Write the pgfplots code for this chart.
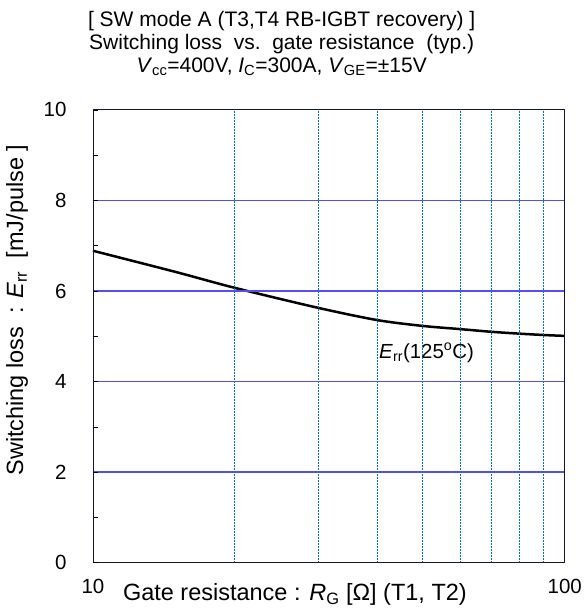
\documentclass[border=0pt]{standalone}
\usepackage{pgfplots}
\pgfplotsset{compat=1.18}
\usepackage{fontspec}
\setmainfont{Liberation Sans}
\definecolor{hgrid}{RGB}{80,80,235}
\definecolor{vgrid}{RGB}{0,112,200}
\definecolor{frame}{RGB}{20,20,60}
\begin{document}
\begin{tikzpicture}
\begin{axis}[
  scale only axis,
  width=472bp, height=453bp,
  xmode=log, log basis x=10,
  xmin=10, xmax=100, ymin=0, ymax=10,
  xtick={10,100}, xticklabels={10,100},
  minor xtick={20,30,40,50,60,70,80,90},
  xminorgrids=true, xmajorgrids=false,
  minor x grid style={draw=vgrid, line width=1bp, dash pattern=on 1.5bp off 1.5bp},
  x tick style={draw=none},
  ytick={2,4,6,8},
  extra y ticks={0,10},
  extra y tick style={grid=none},
  minor ytick={1,3,5,7,9},
  ymajorgrids=true,
  major y grid style={draw=hgrid, line width=1.4bp, solid},
  y tick style={draw=black, line width=0.6pt},
  major tick length=5bp, minor tick length=5bp,
  tick align=inside,
  ytick pos=left,
  axis line style={frame, line width=0.9pt},
  axis on top,
  tick label style={font=\fontsize{20.5bp}{22bp}\selectfont},
  /pgf/number format/assume math mode=true,
  xticklabel style={yshift=-13bp},
  yticklabel style={xshift=-23bp},
  title style={at={(0.40,1)}, anchor=south, yshift=25bp, align=center, font=\fontsize{21bp}{23bp}\selectfont},
  title={[ SW mode A (T3,T4 RB-IGBT recovery) ]\\Switching loss\ \ vs.\ \ gate resistance\ \ (typ.)\\\textit{V}\textsubscript{cc}=400V, \textit{I}\textsubscript{C}=300A, \textit{V}\textsubscript{GE}=±15V},
  xlabel={Gate resistance : \textit{R}\textsubscript{G} [Ω] (T1, T2)},
  xlabel style={at={(axis description cs:0.428,0)}, anchor=center, yshift=-32bp, font=\fontsize{23.5bp}{25bp}\selectfont},
  ylabel={Switching loss\ \ : \textit{E}\textsubscript{rr}\ \ [mJ/pulse ]},
  ylabel style={at={(axis description cs:-0.161,0.558)}, anchor=center, font=\fontsize{23.5bp}{25bp}\selectfont},
  clip=false,
]
\addplot[black, line width=2.5bp, smooth] coordinates {
 (10,6.89) (15,6.42) (20,6.07) (30,5.63) (40,5.36) (50,5.23) (60,5.16) (70,5.10) (80,5.06) (90,5.03) (100,5.01)
};
\node[anchor=west, font=\fontsize{20.4bp}{22bp}\selectfont, inner sep=0pt] at (axis cs:40.4,4.64) {\textit{E}\textsubscript{rr}(125\textsuperscript{o}C)};
\end{axis}
\path (current axis.south west) ++(-93bp,-46bp) rectangle ++(582bp,609bp);
\end{tikzpicture}
\end{document}
